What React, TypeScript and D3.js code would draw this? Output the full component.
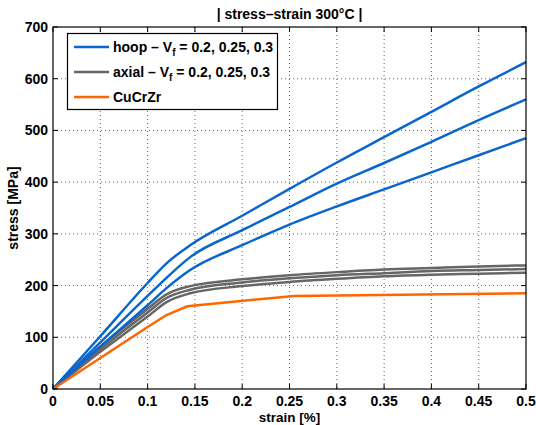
import React from "react";
import * as d3 from "d3";

const strain = [0, 0.05, 0.1, 0.12, 0.145, 0.2, 0.25, 0.3, 0.35, 0.4, 0.45, 0.5];
const hoop1 = [0, 102, 205, 243, 278, 335, 387, 438, 487, 536, 585, 632];
const hoop2 = [0, 90, 180, 215, 255, 307, 352, 397, 437, 478, 520, 560];
const hoop3 = [0, 82, 162, 195, 230, 278, 318, 353, 386, 419, 452, 485];
const axial1 = [0, 82, 155, 183, 199, 212, 220, 226, 231, 234, 237, 239];
const axial2 = [0, 77, 148, 176, 192, 206, 214, 220, 224, 228, 230, 232];
const axial3 = [0, 72, 140, 168, 185, 199, 207, 213, 218, 221, 223, 225];
const cuStrain = [0, 0.05, 0.1, 0.12, 0.142, 0.255, 0.5];
const cuStress = [0, 60, 120, 143, 160, 180, 185];
const xTicks = [0, 0.05, 0.1, 0.15, 0.2, 0.25, 0.3, 0.35, 0.4, 0.45, 0.5];
const yTicks = [0, 100, 200, 300, 400, 500, 600, 700];
const legendLabels = ["hoop", "axial", "CuCrZr"];

const BLUE = "#0866cc";
const GRAY = "#666666";
const ORANGE = "#ff6600";

export default function App() {
  const L = 53, R = 526, T = 27, B = 389;
  const x = d3.scaleLinear().domain([0, 0.5]).range([L, R]);
  const y = d3.scaleLinear().domain([0, 700]).range([B, T]);
  const line = d3
    .line<[number, number]>()
    .x((d) => x(d[0]))
    .y((d) => y(d[1]))
    .curve(d3.curveMonotoneX);
  const lin = d3
    .line<[number, number]>()
    .x((d) => x(d[0]))
    .y((d) => y(d[1]));
  const mk = (xs: number[], ys: number[]) => xs.map((v, i) => [v, ys[i]] as [number, number]);
  const font = "Liberation Sans, Arial, Helvetica, sans-serif";

  const series = [
    { c: GRAY, d: line(mk(strain, axial1)) },
    { c: GRAY, d: line(mk(strain, axial2)) },
    { c: GRAY, d: line(mk(strain, axial3)) },
    { c: BLUE, d: line(mk(strain, hoop1)) },
    { c: BLUE, d: line(mk(strain, hoop2)) },
    { c: BLUE, d: line(mk(strain, hoop3)) },
    { c: ORANGE, d: lin(mk(cuStrain, cuStress)) },
  ];

  const legend = [
    { c: BLUE, label: legendLabels[0], sub: true },
    { c: GRAY, label: legendLabels[1], sub: true },
    { c: ORANGE, label: legendLabels[2], sub: false },
  ];

  return (
    <svg
      width={536}
      height={425}
      style={{ position: "absolute", left: 0, top: 0, background: "#fff" }}
      fontFamily={font}
      fontWeight="bold"
    >
      <rect x={0} y={0} width={536} height={425} fill="#fff" />
      {/* grid */}
      {xTicks.slice(1, -1).map((t) => (
        <line key={"gx" + t} x1={x(t)} x2={x(t)} y1={T} y2={B} stroke="#666" strokeWidth={1} strokeDasharray="1,3" />
      ))}
      {yTicks.slice(1, -1).map((t) => (
        <line key={"gy" + t} x1={L} x2={R} y1={y(t)} y2={y(t)} stroke="#666" strokeWidth={1} strokeDasharray="1,3" />
      ))}
      {/* curves */}
      {series.map((s, i) => (
        <path key={i} d={s.d || ""} fill="none" stroke={s.c} strokeWidth={2.5} strokeLinejoin="round" />
      ))}
      {/* ticks */}
      {xTicks.map((t) => (
        <g key={"tx" + t}>
          <line x1={x(t)} x2={x(t)} y1={B} y2={B - 5} stroke="#000" />
          <line x1={x(t)} x2={x(t)} y1={T} y2={T + 5} stroke="#000" />
          <text x={x(t)} y={406} textAnchor="middle" fontSize={14}>
            {t}
          </text>
        </g>
      ))}
      {yTicks.map((t) => (
        <g key={"ty" + t}>
          <line x1={L} x2={L + 5} y1={y(t)} y2={y(t)} stroke="#000" />
          <line x1={R} x2={R - 5} y1={y(t)} y2={y(t)} stroke="#000" />
          <text x={48} y={y(t) + 5} textAnchor="end" fontSize={14}>
            {t}
          </text>
        </g>
      ))}
      <rect x={L} y={T} width={R - L} height={B - T} fill="none" stroke="#000" strokeWidth={1.2} />
      {/* legend */}
      <rect x={67.5} y={33.5} width={210} height={76} fill="#fff" stroke="#000" strokeWidth={1.2} />
      {legend.map((l, i) => {
        const ly = 47 + i * 25;
        return (
          <g key={"lg" + i}>
            <line x1={74} x2={109} y1={ly} y2={ly} stroke={l.c} strokeWidth={2.5} />
            <text x={113} y={ly + 5} fontSize={14}>
              {l.sub ? (
                <>
                  {l.label + " \u2013 V"}
                  <tspan fontSize={10} dy={4}>f</tspan>
                  <tspan dy={-4}>{" = 0.2, 0.25, 0.3"}</tspan>
                </>
              ) : (
                l.label
              )}
            </text>
          </g>
        );
      })}
      {/* labels */}
      <text x={289.5} y={19} textAnchor="middle" fontSize={14}>
        {"| stress\u2013strain 300\u00B0C |"}
      </text>
      <text x={289.5} y={422} textAnchor="middle" fontSize={13.5}>
        strain [%]
      </text>
      <text transform={`translate(18,208) rotate(-90)`} textAnchor="middle" fontSize={14}>
        stress [MPa]
      </text>
    </svg>
  );
}
